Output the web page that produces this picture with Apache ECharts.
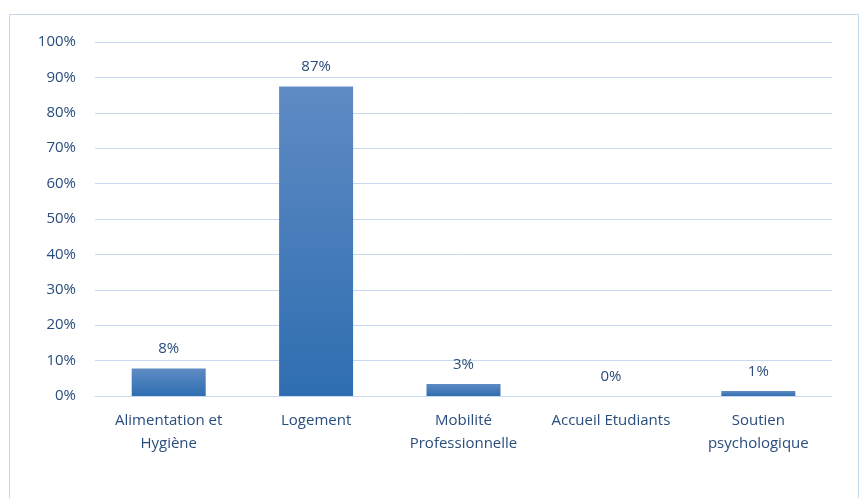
<!DOCTYPE html>
<html><head><meta charset="utf-8">
<script src="https://cdn.jsdelivr.net/npm/echarts@6/dist/echarts.min.js"></script>
<style>html,body{margin:0;padding:0;background:#fff}#c{width:861px;height:498px}</style>
</head><body><div id="c"></div>
<script>
const categories = ['Alimentation et\nHygiène', 'Logement', 'Mobilité\nProfessionnelle', 'Accueil Etudiants', 'Soutien\npsychologique'];
const values = [7.8, 87.4, 3.4, 0, 1.4];
const yTicks = [0, 10, 20, 30, 40, 50, 60, 70, 80, 90, 100];

const chart = echarts.init(document.getElementById('c'));
const font = 'Open Sans, Noto Sans, sans-serif';
chart.setOption({
  animation: false,
  graphic: [{
    type: 'rect', left: 7, top: 12,
    shape: { width: 849, height: 500 },
    style: { fill: 'none', stroke: '#c5d9ee', lineWidth: 1 }
  }],
  grid: { left: 95, right: 29, top: 42, bottom: 102, containLabel: false },
  xAxis: {
    type: 'category', data: categories,
    axisLine: { lineStyle: { color: '#c6d9f1' } },
    axisTick: { show: false },
    axisLabel: { color: '#294d7c', fontFamily: font, fontSize: 15, lineHeight: 23, margin: 13, interval: 0 }
  },
  yAxis: {
    type: 'value', min: 0, max: 100, interval: 10,
    axisLine: { show: false }, axisTick: { show: false },
    splitLine: { lineStyle: { color: '#c6d9f1' } },
    axisLabel: { color: '#294d7c', fontFamily: font, fontSize: 15, margin: 19,
      formatter: v => yTicks.includes(v) ? v + '%' : '' }
  },
  series: [{
    type: 'bar', data: values, barWidth: 74,
    itemStyle: {
      color: new echarts.graphic.LinearGradient(0, 0, 0, 1, [
        { offset: 0, color: '#5f8bc4' }, { offset: 1, color: '#2e6eb0' }
      ])
    },
    label: { show: true, position: 'top', distance: 12, color: '#294d7c', fontFamily: font, fontSize: 15,
      formatter: p => Math.round(p.value) + '%' }
  }]
});
</script></body></html>
